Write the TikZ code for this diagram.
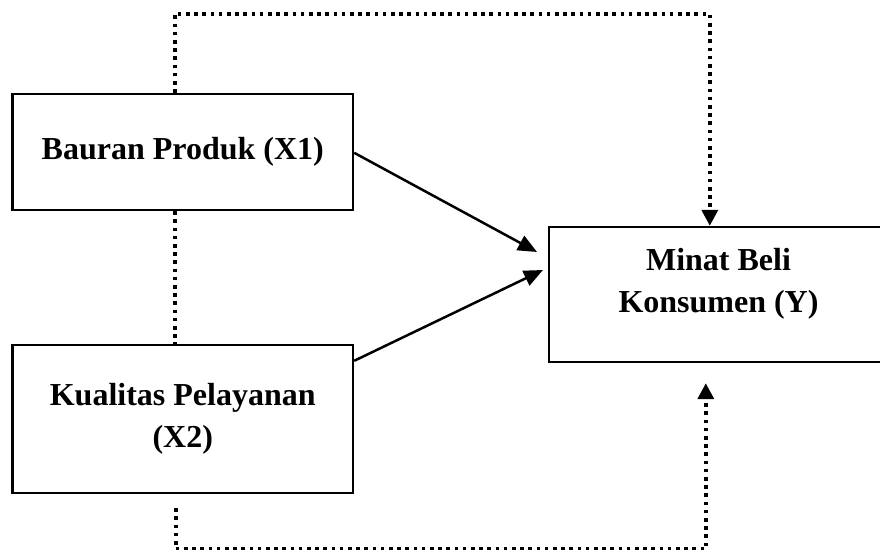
\documentclass[tikz,border=0pt]{standalone}
\usepackage{fontspec}
\setmainfont{Liberation Serif}
\usetikzlibrary{arrows.meta,calc}
\tikzset{
  boxnode/.style={draw=black, line width=2.4pt, fill=white, rectangle, inner sep=0pt,
    align=center, font=\fontsize{32}{42.5}\selectfont\bfseries},
  textnode/.style={inner sep=0pt, align=center, font=\fontsize{32}{42.5}\selectfont\bfseries},
  solidarrow/.style={line width=2.5pt, -{Triangle[length=19pt,width=16pt]}},
  dotline/.style={line width=3.6pt, dash pattern=on 3.6pt off 4.6pt},
  dotarrow/.style={dotline, -{Triangle[length=16pt,width=16pt]}}
}
\begin{document}
\begin{tikzpicture}[x=1pt,y=-1pt]
\useasboundingbox (0,0) rectangle (880,549);
\clip (0,0) rectangle (880,549);
\fill[white] (0,0) rectangle (880,549);

\node[boxnode, minimum width=340.5pt, minimum height=116pt] (b1) at (182.75,152) {Bauran Produk (X1)};
\node[boxnode, minimum width=340.5pt, minimum height=148pt] (b2) at (182.75,419) {Kualitas Pelayanan\\(X2)};
\node[boxnode, minimum width=360pt, minimum height=135pt] (y) at (729,294.5) {};
\node[textnode] (ytext) at (718.5,284) {Minat Beli\\Konsumen (Y)};

\coordinate (t1) at (537,252);
\coordinate (t2) at (543,270);
\draw[solidarrow] ($(b1.north east)+(0,60)$) -- (t1);
\draw[solidarrow] ($(b2.north east)+(0,17)$) -- (t2);

\draw[dotarrow] ($(b1.north west)+(163.5,0)$) -- ++(0,-79) -| ($(y.north west)+(162,0)$);
\draw[dotline] ($(b1.south west)+(163.5,0)$) -- ($(b2.north west)+(163.5,0)$);
\draw[dotarrow] ($(b2.south west)+(164.5,14)$) -- ++(0,41) -| ($(y.south west)+(158,20)$);
\end{tikzpicture}
\end{document}
